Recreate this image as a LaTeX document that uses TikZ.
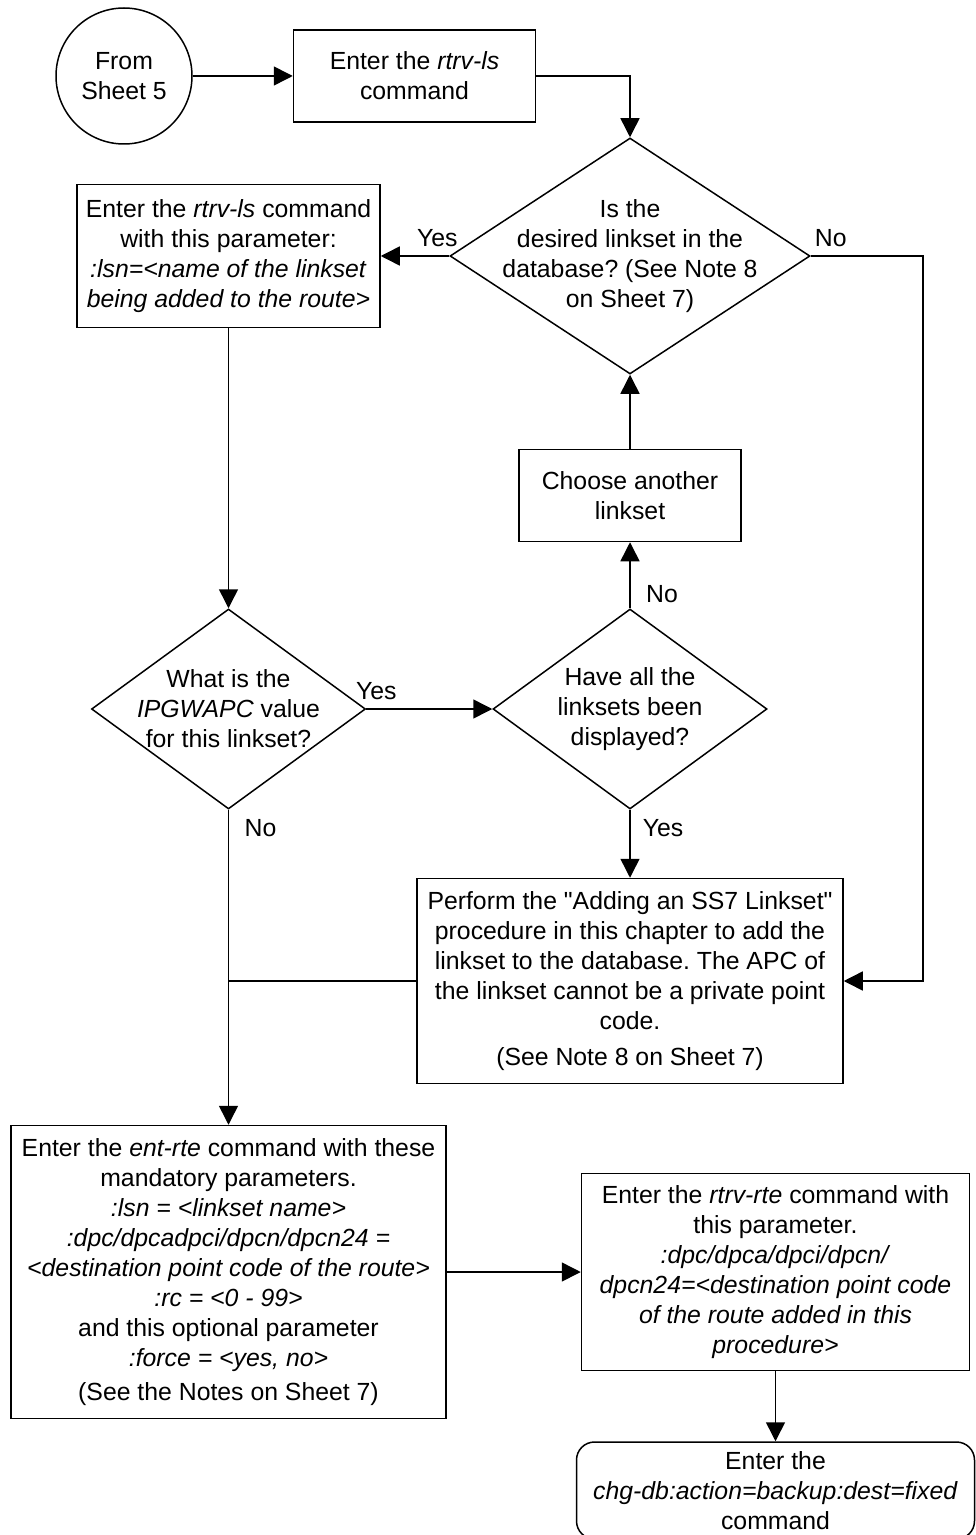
\documentclass[tikz,border=0pt]{standalone}
\usepackage{fontspec}
\setmainfont{Liberation Sans}
\usepackage{tikz}
\usetikzlibrary{arrows.meta, shapes.geometric, positioning, calc}
\frenchspacing
\tikzset{
  >={Triangle[length=9.5pt, width=9.5pt]},
  txt/.style      = {font=\fontsize{12.4}{15}\selectfont\frenchspacing},
  start/.style    = {draw, circle, minimum size=68pt, inner sep=1pt,
                     txt, align=center},
  proc/.style     = {draw, rectangle, inner sep=2pt, txt, align=center},
  term/.style     = {proc, rounded corners=9pt},
  decision/.style = {draw, diamond, inner sep=0pt},
  qtext/.style    = {txt, align=center, inner sep=0pt},
  answer/.style   = {txt, inner sep=1pt},
  arrow/.style    = {->},
  link/.style     = {-},
}

\begin{document}
\begin{tikzpicture}[x=0.5pt, y=-0.5pt, line width=0.75pt]
  \useasboundingbox (0,0) rectangle (975,1535);

  % =====================================================================
  % TOP: entry point and the first retrieve
  % =====================================================================
  \node[start] (from5) at (124,76) {From\\Sheet 5};
  \node[proc, right=50pt of from5, minimum width=121pt, minimum height=46pt]
    (ls) {Enter the \textit{rtrv-ls}\\command};

  \node[decision, minimum width=180pt, minimum height=118pt,
        label={[qtext]center:{Is the\\desired linkset in the\\database? (See Note 8\\on Sheet 7)}}]
    (q1) at (630,256) {};
  \node[proc, left=34.25pt of q1, minimum width=151.5pt, minimum height=71.5pt]
    (lsn) {Enter the \textit{rtrv-ls} command\\with this parameter:\\
           \textit{:lsn=<name of the linkset}\\\textit{being added to the route>}};

  % =====================================================================
  % MIDDLE: linkset loop
  % =====================================================================
  \node[proc, below=37pt of q1, minimum width=111pt, minimum height=46pt]
    (choose) {Choose another\\linkset};
  \node[decision, below=33pt of choose, minimum width=137pt, minimum height=100pt,
        label={[qtext]center:{Have all the\\linksets been\\displayed?}}]
    (q2) {};
  \node[decision, left=63pt of q2, minimum width=137pt, minimum height=100pt,
        label={[qtext]center:{What is the\\\textit{IPGWAPC} value\\for this linkset?}}]
    (q3) {};
  \node[proc, below=34pt of q2, minimum width=213pt, minimum height=102.5pt]
    (addls) {Perform the \textquotedbl Adding an SS7 Linkset\textquotedbl\\procedure in this chapter to add the\\
             linkset to the database. The APC of\\the linkset cannot be a private point\\
             code.\\[3pt](See Note 8 on Sheet 7)};

  % =====================================================================
  % BOTTOM: add the route, check it, back up
  % =====================================================================
  \node[proc, below=157.5pt of q3, minimum width=217.5pt, minimum height=146.5pt]
    (entrte) {Enter the \textit{ent-rte} command with these\\mandatory parameters.\\
              \textit{:lsn = <linkset name>}\\\textit{:dpc/dpcadpci/dpcn/dpcn24 =}\\
              \textit{<destination point code of the route>}\\\textit{:rc = <0 - 99>}\\
              and this optional parameter\\\textit{:force = <yes, no>}\\[2pt]
              (See the Notes on Sheet 7)};
  \node[proc, right=67pt of entrte, minimum width=194pt, minimum height=98.5pt]
    (rtrvrte) {Enter the \textit{rtrv-rte} command with\\this parameter.\\
               \textit{:dpc/dpca/dpci/dpcn/}\\\textit{dpcn24=<destination point code}\\
               \textit{of the route added in this}\\\textit{procedure>}};
  \node[term, below=35pt of rtrvrte, minimum width=199pt, minimum height=48.5pt]
    (backup) {Enter the\\\textit{chg-db:action=backup:dest=fixed}\\command};

  % yes / no labels
  \node[answer] (q1yes) at ($(q1.west)+(-12,-18)$)  {Yes};
  \node[answer] (q1no)  at ($(q1.east)+(20,-18)$)   {No};
  \node[answer] (q2no)  at ($(q2.north)+(32,-14)$)  {No};
  \node[answer] (q2yes) at ($(q2.south)+(33,18)$)   {Yes};
  \node[answer] (q3yes) at ($(q3.east)+(10,-18)$)   {Yes};
  \node[answer] (q3no)  at ($(q3.south)+(32,18)$)   {No};

  % connectors
  \draw[arrow] (from5) -- (ls);
  \draw[arrow] (ls.east) -| (q1.north);
  \draw[arrow] (q1.west) -- (lsn.east);
  \draw[arrow] (lsn.south) -- (q3.north);
  \draw[arrow] (q3.east) -- (q2.west);
  \draw[arrow] (q2.north) -- (choose.south);
  \draw[arrow] (choose.north) -- (q1.south);
  \draw[arrow] (q2.south) -- (addls.north);

  % "No" branch of q1 runs down the right side into the add-linkset box
  \coordinate (c1) at ($(q1.east)+(112,0)$);
  \draw[arrow] (q1.east) -- (c1) |- (addls.east);

  \draw[arrow] (q3.south) -- (entrte.north);
  \draw[link]  (addls.west) -- (addls.west -| q3.south);
  \draw[arrow] (entrte.east) -- (rtrvrte.west);
  \draw[arrow] (rtrvrte.south) -- (backup.north);

\end{tikzpicture}
\end{document}
